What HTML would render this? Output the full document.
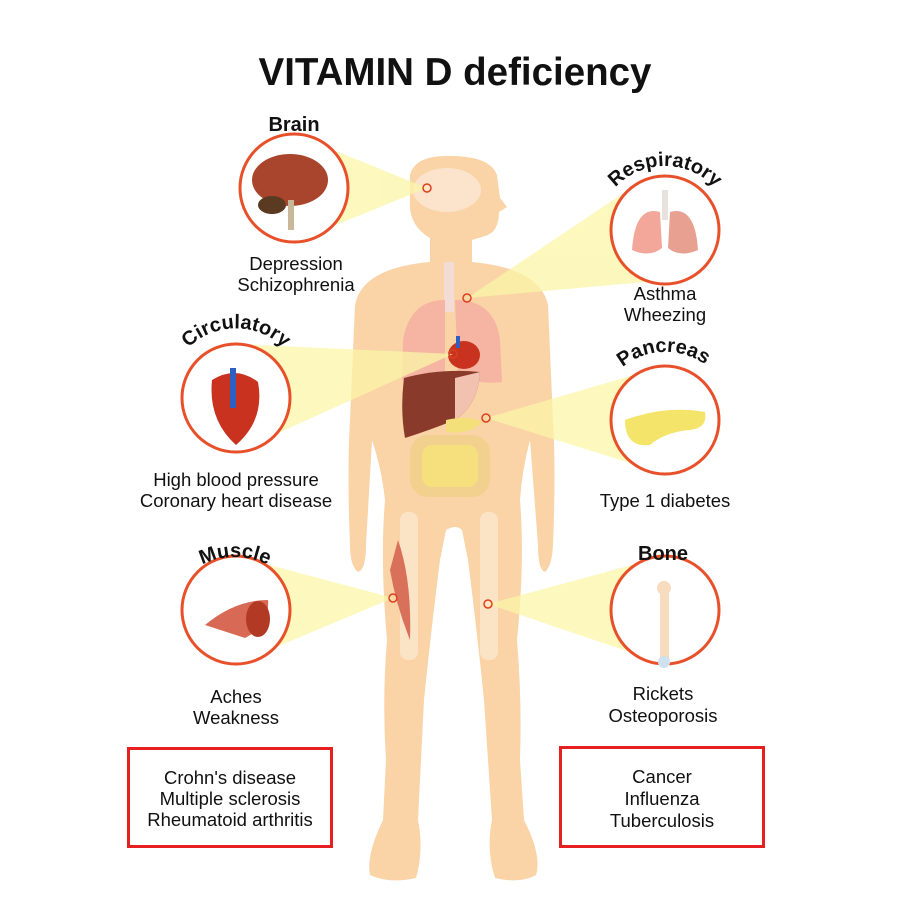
<!DOCTYPE html>
<html><head><meta charset="utf-8"><style>
html,body{margin:0;padding:0;background:#fff}
svg{display:block}
text{font-family:"Liberation Sans",sans-serif;fill:#111}
.t{font-size:18.5px;text-anchor:middle}
.b{font-size:20px;font-weight:bold}
</style></head><body>
<svg width="900" height="900" viewBox="0 0 900 900">
<defs>
<path id="pr" d="M600,214 A68,68 0 0 1 730,214"/>
<path id="pc" d="M170,380 A68,68 0 0 1 302,380"/>
<path id="pp" d="M600,402 A68,68 0 0 1 730,398"/>
<path id="pm" d="M178,585 A72,72 0 0 1 292,585"/>
</defs>
<text x="455" y="85" text-anchor="middle" style="font-size:38.5px;font-weight:bold">VITAMIN D deficiency</text>

<g fill="#fad3a6">
<path d="M410,175 Q415,155 450,156 Q490,156 497,175 L500,198 L507,207 L499,212 Q499,232 485,236 L472,240 L472,262 Q540,268 548,305 L553,420 Q556,470 553,545 Q552,566 545,572 Q538,570 538,545 L530,440 Q522,470 520,500 Q525,560 517,640 Q522,700 520,760 L524,820 Q542,855 536,875 Q520,884 495,878 Q486,850 492,820 L484,700 Q478,640 468,560 L462,530 Q456,524 446,530 L440,560 Q430,640 424,700 L418,820 Q424,850 416,878 Q390,884 370,875 Q366,855 383,820 L386,760 Q382,700 387,640 Q380,560 385,500 Q382,470 372,440 L366,545 Q366,570 358,572 Q350,566 350,545 Q347,470 350,420 L355,305 Q362,268 430,262 L430,238 Q408,225 410,200 Z"/>
</g>
<ellipse cx="447" cy="190" rx="34" ry="22" fill="#fbe3cc"/>
<rect x="444" y="262" width="10" height="50" fill="#f3dcd6"/>
<path d="M445,300 Q410,300 403,340 L402,380 Q425,385 445,375 Z" fill="#f5b5a2"/>
<path d="M455,300 Q495,300 500,340 L502,382 Q478,385 458,375 Z" fill="#f5b5a2"/>
<path d="M404,378 Q440,368 480,372 Q478,405 455,420 Q430,430 405,438 Q400,410 404,378 Z" fill="#8a3a2a"/>
<path d="M455,378 L480,372 Q478,405 455,420 Z" fill="#f2c1b0"/>
<ellipse cx="464" cy="355" rx="16" ry="14" fill="#c8321e"/>
<rect x="456" y="336" width="4" height="12" fill="#2f5fc0"/>
<path d="M446,420 Q470,415 482,422 Q470,435 446,432 Z" fill="#f3e07a"/>
<rect x="410" y="435" width="80" height="62" rx="18" fill="#f1d08c" opacity="0.9"/>
<rect x="422" y="445" width="56" height="42" rx="10" fill="#f6e07e"/>
<rect x="400" y="512" width="18" height="148" rx="8" fill="#fbe4c6"/>
<rect x="480" y="512" width="18" height="148" rx="8" fill="#fbe4c6"/>
<path d="M398,540 Q412,580 410,640 Q396,605 390,570 Z" fill="#d9715a"/>

<g fill="#fbf6a8" opacity="0.75">
<polygon points="294,134 427,188 294,242"/>
<polygon points="640,182 467,298 690,278"/>
<polygon points="236,344 453,354 236,452"/>
<polygon points="665,366 486,418 665,474"/>
<polygon points="236,556 393,598 236,664"/>
<polygon points="665,556 488,604 665,664"/>
</g>
<g fill="none" stroke="#d9401f" stroke-width="1.5">
<circle cx="427" cy="188" r="4"/><circle cx="467" cy="298" r="4"/>
<circle cx="453" cy="354" r="4"/><circle cx="486" cy="418" r="4"/>
<circle cx="393" cy="598" r="4"/><circle cx="488" cy="604" r="4"/>
</g>

<g fill="#fff" stroke="#e8502a" stroke-width="3">
<circle cx="294" cy="188" r="54"/><circle cx="665" cy="230" r="54"/>
<circle cx="236" cy="398" r="54"/><circle cx="665" cy="420" r="54"/>
<circle cx="236" cy="610" r="54"/><circle cx="665" cy="610" r="54"/>
</g>
<ellipse cx="290" cy="180" rx="38" ry="26" fill="#a8452c"/>
<ellipse cx="272" cy="205" rx="14" ry="9" fill="#5a3a20"/>
<rect x="288" y="200" width="6" height="30" fill="#c9b79a"/>
<rect x="662" y="190" width="6" height="30" fill="#e8e2dc"/>
<path d="M660,212 Q635,205 632,250 Q650,258 662,248 Z" fill="#f3a79a"/>
<path d="M670,212 Q695,205 698,250 Q680,258 668,248 Z" fill="#e8a090"/>
<path d="M212,380 Q236,365 258,382 Q265,420 236,445 Q208,420 212,380 Z" fill="#c8321e"/>
<rect x="230" y="368" width="6" height="40" fill="#2f5fc0"/>
<path d="M625,420 Q665,405 705,412 Q708,428 690,430 Q665,432 650,445 Q625,448 625,420 Z" fill="#f5e46a"/>
<path d="M205,625 Q235,600 268,600 Q270,625 245,638 Z" fill="#d86a55"/>
<ellipse cx="258" cy="619" rx="12" ry="18" fill="#b23a25"/>
<rect x="660" y="590" width="9" height="70" fill="#f7dcc0"/>
<circle cx="664" cy="588" r="7" fill="#f7dcc0"/><circle cx="664" cy="662" r="6" fill="#cfe0ef"/>

<text x="294" y="131" text-anchor="middle" class="b">Brain</text>
<text class="b"><textPath href="#pr" startOffset="50%" text-anchor="middle">Respiratory</textPath></text>
<text class="b"><textPath href="#pc" startOffset="50%" text-anchor="middle">Circulatory</textPath></text>
<text class="b"><textPath href="#pp" startOffset="50%" text-anchor="middle">Pancreas</textPath></text>
<text class="b"><textPath href="#pm" startOffset="50%" text-anchor="middle">Muscle</textPath></text>
<text x="663" y="560" text-anchor="middle" class="b">Bone</text>

<text class="t" x="296" y="270">Depression</text><text class="t" x="296" y="291">Schizophrenia</text>
<text class="t" x="665" y="300">Asthma</text><text class="t" x="665" y="321">Wheezing</text>
<text class="t" x="236" y="486">High blood pressure</text><text class="t" x="236" y="507">Coronary heart disease</text>
<text class="t" x="665" y="507">Type 1 diabetes</text>
<text class="t" x="236" y="703">Aches</text><text class="t" x="236" y="724">Weakness</text>
<text class="t" x="663" y="700">Rickets</text><text class="t" x="663" y="722">Osteoporosis</text>

<rect x="128.5" y="748.5" width="203" height="98" fill="#fff" stroke="#e62020" stroke-width="3"/>
<text class="t" x="230" y="784">Crohn's disease</text><text class="t" x="230" y="805">Multiple sclerosis</text><text class="t" x="230" y="826">Rheumatoid arthritis</text>
<rect x="560.5" y="747.5" width="203" height="99" fill="#fff" stroke="#e62020" stroke-width="3"/>
<text class="t" x="662" y="783">Cancer</text><text class="t" x="662" y="805">Influenza</text><text class="t" x="662" y="827">Tuberculosis</text>
</svg>
</body></html>
